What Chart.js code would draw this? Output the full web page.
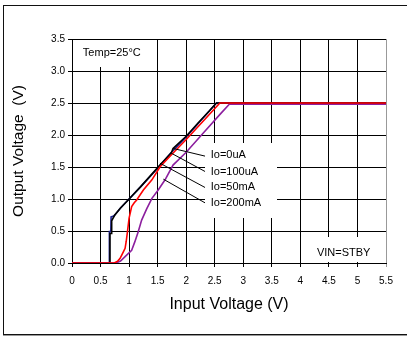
<!DOCTYPE html>
<html>
<head>
<meta charset="utf-8">
<script src="https://cdn.jsdelivr.net/npm/chart.js@4.4.0/dist/chart.umd.min.js"></script>
<style>
  html, body { margin: 0; padding: 0; background: #fff; }
  #wrap { position: relative; width: 407px; height: 338px; overflow: hidden; }
  #frame { position: absolute; left: 3px; top: 5px; width: 410px; height: 328px; border: 1px solid #111; box-shadow: 0 1px 0 #999; }
  #chart { position: absolute; left: 0; top: 0; }
</style>
</head>
<body>
<div id="wrap">
  <div id="frame"></div>
  <canvas id="chart" width="407" height="338"></canvas>
</div>
<script>
// curves (input V, output V)
const io0uaX = [0, 0.66, 0.665, 0.69, 0.695, 0.72, 0.75, 0.85, 1.0, 1.2, 1.5, 1.74, 1.77, 2.0, 2.2, 2.4, 2.53, 5.5];
const io0uaY = [0, 0, 0.46, 0.46, 0.66, 0.70, 0.75, 0.86, 1.0, 1.19, 1.49, 1.72, 1.79, 1.98, 2.18, 2.37, 2.5, 2.5];

const io100uaX = [0, 0.65, 0.655, 0.68, 0.685, 0.72, 0.75, 0.85, 1.0, 1.2, 1.5, 1.73, 2.0, 2.3, 2.53, 5.5];
const io100uaY = [0, 0, 0.49, 0.49, 0.72, 0.73, 0.75, 0.86, 1.0, 1.19, 1.48, 1.72, 1.97, 2.27, 2.5, 2.5];

const io50maX = [0, 0.74, 0.8, 0.84, 0.88, 0.93, 0.95, 0.97, 1.0, 1.045, 1.09, 1.13, 1.25, 1.4, 1.54, 1.75, 2.0, 2.3, 2.59, 5.5];
const io50maY = [0, 0, 0.03, 0.07, 0.14, 0.23, 0.34, 0.48, 0.70, 0.88, 0.94, 0.98, 1.14, 1.30, 1.50, 1.70, 1.93, 2.22, 2.5, 2.5];

const io200maX = [0, 0.77, 0.85, 0.93, 1.045, 1.10, 1.16, 1.22, 1.31, 1.40, 1.51, 1.63, 1.77, 2.0, 2.3, 2.6, 2.755, 5.5];
const io200maY = [0, 0, 0.03, 0.10, 0.20, 0.33, 0.49, 0.67, 0.85, 1.01, 1.14, 1.30, 1.53, 1.73, 2.03, 2.33, 2.48, 2.48];

const xTicks = [0, 0.5, 1, 1.5, 2, 2.5, 3, 3.5, 4, 4.5, 5, 5.5];
const yTicks = [0, 0.5, 1.0, 1.5, 2.0, 2.5, 3.0, 3.5];

const curveNames = ['Io=0uA', 'Io=100uA', 'Io=50mA', 'Io=200mA'];

function pts(xs, ys) {
    return xs.map((x, i) => ({ x: x, y: ys[i] }));
}

const FONT = 'Liberation Sans, Arial, sans-serif';

// annotation layout in data units
const notes = {
    whiteBoxes: [
        [0.02, 3.49, 1.37, 3.06],
        [2.33, 1.87, 3.59, 0.70],
        [4.03, 0.41, 5.49, 0.02]
    ],
    texts: [
        ['Temp=25°C', 0.19, 3.28],
        ['VIN=STBY', 4.29, 0.15],
        [curveNames[0], 2.43, 1.685],
        [curveNames[1], 2.43, 1.43],
        [curveNames[2], 2.43, 1.185],
        [curveNames[3], 2.43, 0.94]
    ],
    leaders: [
        [1.77, 1.79, 2.33, 1.67],
        [1.73, 1.72, 2.33, 1.43],
        [1.54, 1.56, 2.33, 1.18],
        [1.60, 1.31, 2.33, 0.94]
    ]
};

const annotate = {
    id: 'annotate',
    beforeDatasetsDraw(chart) {
        const c = chart.ctx, xs = chart.scales.x, ys = chart.scales.y;
        c.save();
        c.fillStyle = '#fff';
        notes.whiteBoxes.forEach(b => {
            const x1 = Math.round(xs.getPixelForValue(b[0])), x2 = Math.round(xs.getPixelForValue(b[2]));
            const y1 = Math.round(ys.getPixelForValue(b[1])), y2 = Math.round(ys.getPixelForValue(b[3]));
            c.fillRect(x1, y1, x2 - x1, y2 - y1);
        });
        c.restore();
    },
    afterDatasetsDraw(chart) {
        const c = chart.ctx, xs = chart.scales.x, ys = chart.scales.y;
        c.save();
        c.strokeStyle = '#000';
        c.lineWidth = 1;
        notes.leaders.forEach(l => {
            c.beginPath();
            c.moveTo(xs.getPixelForValue(l[0]), ys.getPixelForValue(l[1]));
            c.lineTo(xs.getPixelForValue(l[2]), ys.getPixelForValue(l[3]));
            c.stroke();
        });
        c.fillStyle = '#000';
        c.font = '11px ' + FONT;
        c.textBaseline = 'middle';
        notes.texts.forEach(t => {
            c.fillText(t[0], xs.getPixelForValue(t[1]), ys.getPixelForValue(t[2]));
        });
        c.restore();
    }
};

const ctx = document.getElementById('chart').getContext('2d');

new Chart(ctx, {
    type: 'line',
    data: {
        datasets: [
            { label: curveNames[2], data: pts(io50maX, io50maY), borderColor: '#ff0000' },
            { label: curveNames[3], data: pts(io200maX, io200maY), borderColor: '#8c1f9e' },
            { label: curveNames[0], data: pts(io0uaX, io0uaY), borderColor: '#000000' },
            { label: curveNames[1], data: pts(io100uaX, io100uaY), borderColor: '#1c1f8f' }
        ].map(d => Object.assign(d, { borderWidth: 1.6, pointRadius: 0, tension: 0, fill: false }))
    },
    options: {
        responsive: false,
        animation: false,
        devicePixelRatio: 1,
        layout: { padding: { left: 0, top: 39, right: 21, bottom: 0 } },
        plugins: { legend: { display: false }, tooltip: { enabled: false } },
        scales: {
            x: {
                type: 'linear',
                min: 0,
                max: 5.5,
                afterBuildTicks: s => { s.ticks = xTicks.map(v => ({ value: v })); },
                afterFit: s => { s.height = 75; },
                ticks: {
                    color: '#000',
                    font: { family: FONT, size: 10 },
                    padding: 8,
                    maxRotation: 0,
                    autoSkip: false,
                    callback: v => String(v)
                },
                grid: {
                    color: c => (c.tick && c.tick.value === 5.5) ? '#999' : '#000',
                    lineWidth: 1,
                    tickLength: 4
                },
                border: { color: '#000' },
                title: {
                    display: true,
                    text: 'Input Voltage (V)',
                    color: '#000',
                    font: { family: FONT, size: 16 },
                    padding: { top: 0, bottom: 24 }
                }
            },
            y: {
                type: 'linear',
                min: 0,
                max: 3.5,
                afterBuildTicks: s => { s.ticks = yTicks.map(v => ({ value: v })); },
                afterFit: s => { s.width = 72; },
                ticks: {
                    color: '#000',
                    font: { family: FONT, size: 10 },
                    padding: 3,
                    autoSkip: false,
                    callback: v => v.toFixed(1)
                },
                grid: { color: '#000', lineWidth: 1, tickLength: 4 },
                border: { color: '#000' },
                title: {
                    display: true,
                    text: 'Output Voltage  (V)',
                    color: '#000',
                    font: { family: FONT, size: 15.5 },
                    padding: { top: 9, bottom: 0 }
                }
            }
        }
    },
    plugins: [annotate]
});
</script>
</body>
</html>
